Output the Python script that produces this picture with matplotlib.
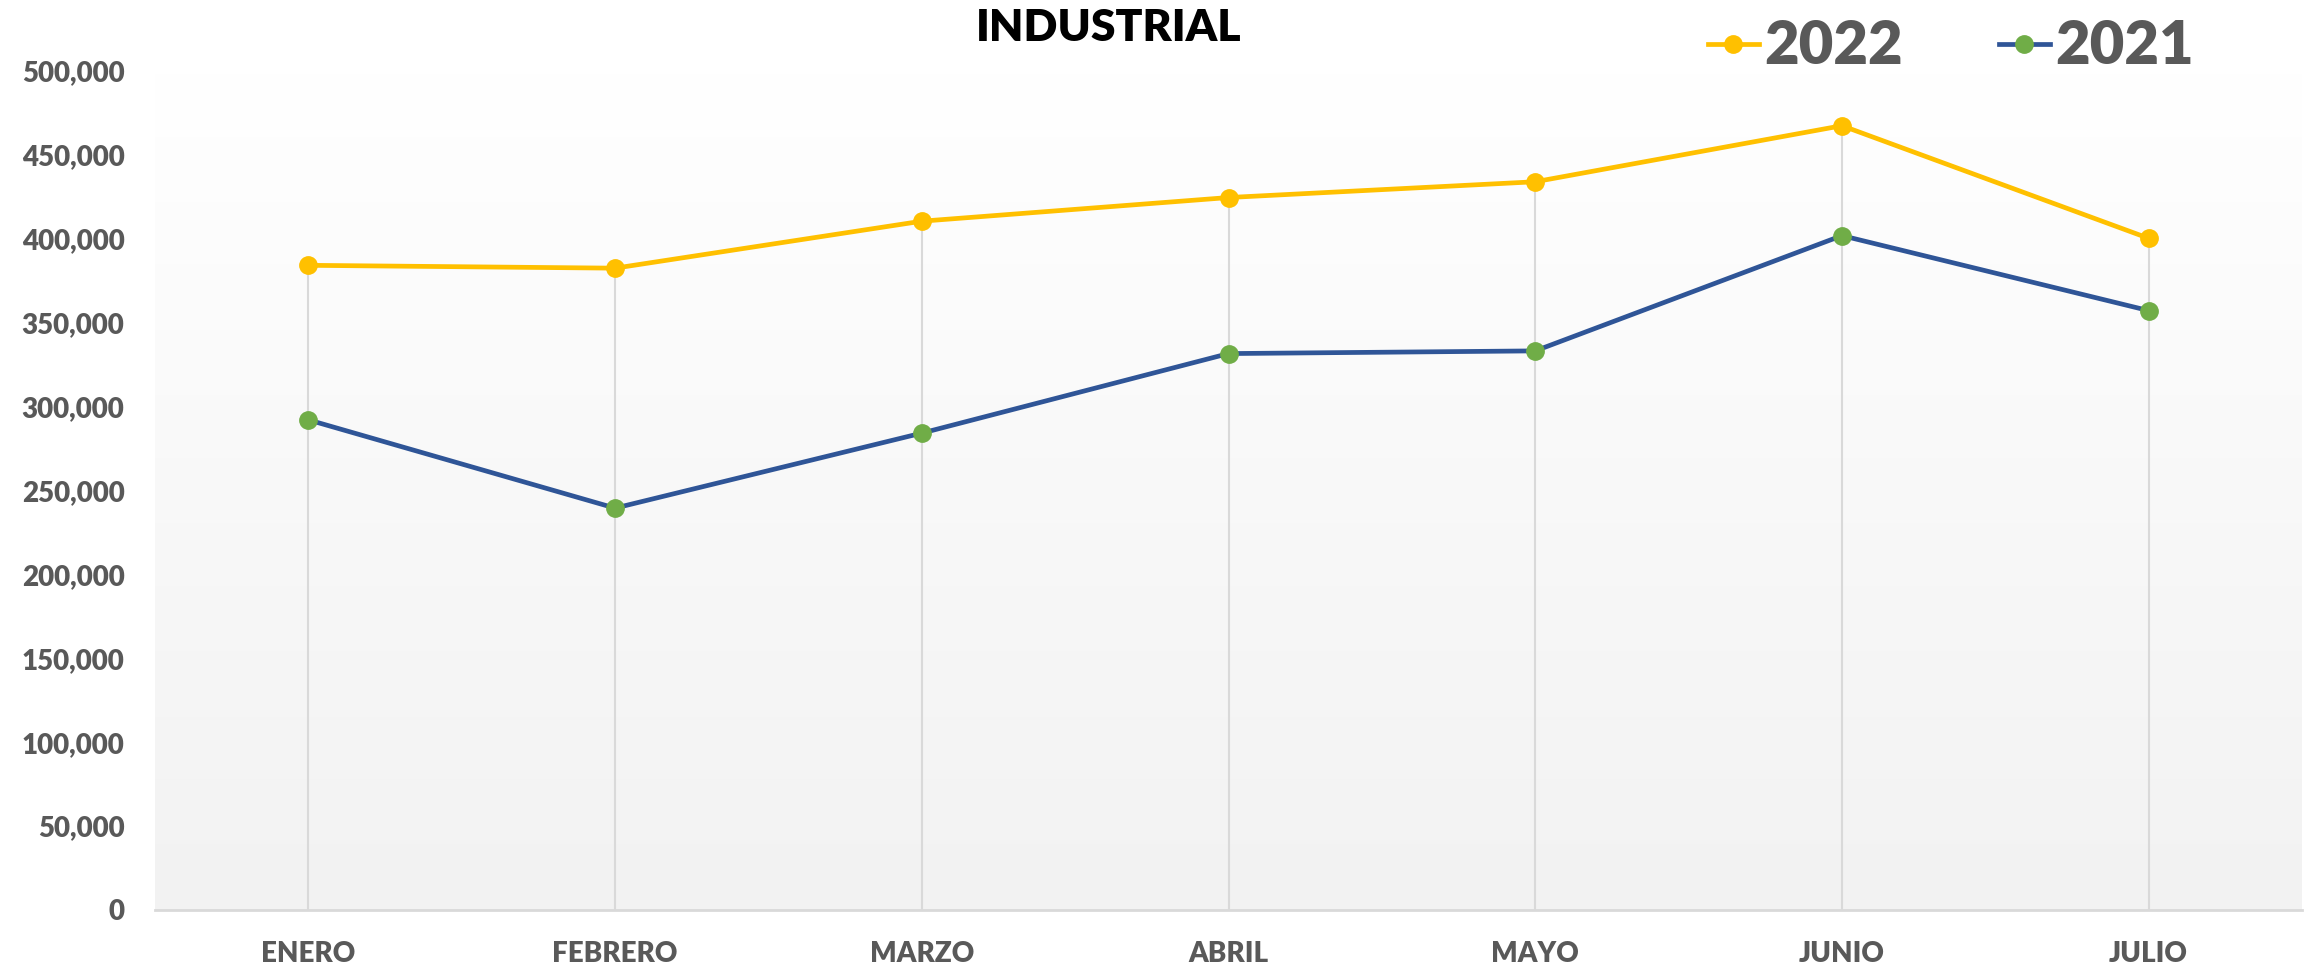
import numpy as np
import matplotlib
matplotlib.use("Agg")
import matplotlib.pyplot as plt
from matplotlib.ticker import FuncFormatter
from matplotlib.colors import LinearSegmentedColormap

months = ["ENERO", "FEBRERO", "MARZO", "ABRIL", "MAYO", "JUNIO", "JULIO"]
y2022 = [384200, 382500, 410500, 424600, 434000, 467400, 400300]
y2021 = [292100, 239500, 284200, 331600, 333200, 401900, 357200]
yticks = [0, 50000, 100000, 150000, 200000, 250000, 300000, 350000, 400000, 450000, 500000]

plt.rcParams['font.family'] = ['Lato', 'DejaVu Sans']

W, H = 2312, 967
fig = plt.figure(figsize=(W / 100, H / 100), dpi=100)
ax = fig.add_axes([155 / W, 1 - 910 / H, (2302 - 155) / W, (910 - 71) / H])

x = np.arange(len(months))
ax.set_xlim(-0.5, len(months) - 0.5)
ax.set_ylim(0, 500000)

# gradient background
grad = np.linspace(0, 1, 256).reshape(-1, 1)
cmap = LinearSegmentedColormap.from_list("bg", ["#F2F2F2", "#FFFFFF"])
ax.imshow(grad, extent=[0, 1, 0, 1], transform=ax.transAxes, aspect='auto',
          cmap=cmap, origin='lower', zorder=0)

# drop lines
top = np.maximum(y2022, y2021)
ax.vlines(x, 0, top, colors="#D9D9D9", linewidth=1.5, zorder=1)

l1, = ax.plot(x, y2022, color="#FFC000", linewidth=3.4, marker='o', markersize=12.5,
              markerfacecolor="#FFC000", markeredgecolor="#FFC000", zorder=3, label="2022")
l2, = ax.plot(x, y2021, color="#2F5597", linewidth=3.4, marker='o', markersize=12.5,
              markerfacecolor="#70AD47", markeredgecolor="#70AD47", zorder=3, label="2021")

for s in ["top", "right", "left"]:
    ax.spines[s].set_visible(False)
ax.spines["bottom"].set_color("#D9D9D9")
ax.spines["bottom"].set_linewidth(2)

ax.set_xticks(x)
ax.set_xticklabels(months)
ax.set_yticks(yticks)
ax.yaxis.set_major_formatter(FuncFormatter(lambda v, p: f"{int(v):,}"))
ax.tick_params(axis='both', length=0, labelsize=20, labelcolor="#595959")
ax.tick_params(axis='x', pad=22)
ax.tick_params(axis='y', pad=22)
for lab in ax.get_xticklabels() + ax.get_yticklabels():
    lab.set_fontweight('heavy')

fig.text(1109 / W, 1 - 28 / H, "INDUSTRIAL", ha='center', va='center',
         fontsize=32, fontweight='heavy', color='black')

leg = fig.legend(handles=[l1, l2], loc='center left', bbox_to_anchor=(1708 / W, 1 - 47 / H),
                 ncol=2, frameon=False, handlelength=0.85, handletextpad=0.1,
                 columnspacing=1.6, borderpad=0, borderaxespad=0,
                 prop={'size': 43, 'weight': 'heavy'})
for t in leg.get_texts():
    t.set_color("#595959")

fig.savefig("out.png", dpi=100)
